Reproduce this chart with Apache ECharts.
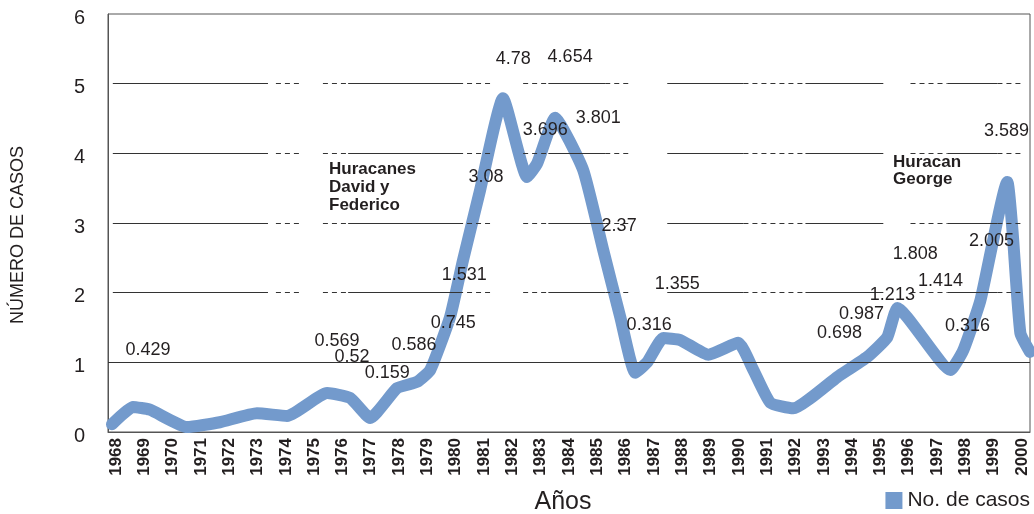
<!DOCTYPE html>
<html>
<head>
<meta charset="utf-8">
<script src="https://cdn.jsdelivr.net/npm/echarts@6/dist/echarts.min.js"></script>
<style>html,body{margin:0;padding:0;background:#fff;}#c{width:1034px;height:514px;}</style>
</head>
<body>
<div id="c"></div>
<script>
// Tick labels
const yearTicks = [1968,1969,1970,1971,1972,1973,1974,1975,1976,1977,1978,1979,1980,1981,1982,1983,1984,1985,1986,1987,1988,1989,1990,1991,1992,1993,1994,1995,1996,1997,1998,1999,2000];
const seriesName = 'No. de casos';
// Line trace (years, values)
const lineYears = [1967.86,1968.60,1969.2,1970.51,1971.67,1972.98,1974.04,1975.46,1976.27,1976.98,1977.93,1978.64,1979.10,1979.80,1980.26,1980.86,1981.67,1982.52,1982.88,1983.51,1984.50,1985.21,1985.81,1986.34,1986.76,1987.33,1987.93,1988.92,1989.98,1990.51,1991.11,1991.92,1993.48,1994.54,1995.24,1995.60,1997.47,1997.93,1998.53,1999.48,1999.66,1999.94,2000.28];
const lineValues = [0.11,0.36,0.32,0.07,0.14,0.27,0.23,0.56,0.49,0.20,0.63,0.72,0.89,1.65,2.47,3.47,4.79,3.66,3.86,4.51,3.76,2.61,1.65,0.85,1.00,1.35,1.32,1.11,1.28,0.89,0.42,0.34,0.79,1.08,1.36,1.78,0.89,1.18,1.89,3.59,2.9,1.42,1.15];
// Value labels (as placed in the picture)
const labelTexts = ['0.429','0.569','0.52','0.159','0.586','0.745','1.531','3.08','4.78','4.654','3.696','3.801','2.37','0.316','1.355','1.808','2.005','3.589','1.414','1.213','0.987','0.698','0.316'];
const labelYears = [1969.13,1975.81,1976.34,1977.58,1978.53,1979.91,1980.30,1981.07,1982.03,1984.04,1983.16,1985.03,1985.77,1986.83,1987.82,1996.23,1998.92,1999.45,1997.12,1995.42,1994.33,1993.55,1998.07];
const labelValues = [1.18,1.31,1.08,0.85,1.25,1.56,2.25,3.66,5.35,5.38,4.33,4.51,2.96,1.54,2.12,2.55,2.74,4.32,2.17,1.97,1.69,1.42,1.52];

const X_MIN = 1967.72, X_MAX = 2000.28;
const FONT = '"Liberation Sans", Arial, sans-serif';
const TXT = '#231f20';

// gridline segment pattern (decoration), in axis units
const gridPattern = [
  [1967.89,1973.37,'s'],[1973.65,1974.47,'d'],[1975.31,1976.20,'d'],[1976.20,1980.26,'s'],
  [1980.40,1981.22,'d'],[1982.38,1983.27,'d'],[1983.27,1985.28,'s'],[1985.28,1986.16,'d'],
  [1987.47,1990.16,'s'],[1990.16,1992.35,'d'],[1992.35,1995.10,'s'],[1996.06,1997.36,'d'],
  [1997.36,1999.13,'s'],[1999.13,2000.05,'d']
];
const gridLevels = [2,3,4,5];
const mlData = [];
gridLevels.forEach(function(y){
  gridPattern.forEach(function(p){
    mlData.push([{coord:[p[0],y], lineStyle:{type: p[2]==='d' ? [5,4] : 'solid'}},{coord:[p[1],y]}]);
  });
});
mlData.push([{coord:[X_MIN,1], lineStyle:{type:'solid'}},{coord:[X_MAX,1]}]);

const lineData = lineYears.map(function(x,i){return [x, lineValues[i]];});
const labelData = labelYears.map(function(x,i){return [x, labelValues[i], labelTexts[i]];});

const chart = echarts.init(document.getElementById('c'));
chart.setOption({
  animation:false,
  textStyle:{fontFamily:FONT},
  grid:{left:108,right:4,top:14,bottom:82,show:true,borderColor:'#555',borderWidth:1,backgroundColor:'transparent'},
  legend:{
    data:[seriesName], right:4, top:490, padding:0, icon:'rect', itemWidth:17, itemHeight:17, itemGap:6,
    textStyle:{fontSize:21,color:TXT,fontFamily:FONT}
  },
  xAxis:{
    type:'value', min:X_MIN, max:X_MAX,
    axisLine:{show:true,lineStyle:{color:'#555',width:1}},
    axisTick:{show:false}, splitLine:{show:false},
    axisLabel:{customValues:yearTicks, rotate:90, fontWeight:'bold', fontSize:17, margin:6, color:TXT, fontFamily:FONT,
      formatter:function(v){return String(Math.round(v));}}
  },
  yAxis:{
    type:'value', min:0, max:6, interval:1,
    axisLine:{show:true,lineStyle:{color:'#555',width:1}},
    axisTick:{show:false}, splitLine:{show:false},
    axisLabel:{margin:23, formatter:'{a|{value}}',
      rich:{a:{fontSize:20, color:TXT, fontFamily:FONT, padding:[8,0,0,0]}}}
  },
  graphic:[
    {type:'text', x:18, y:235, rotation:Math.PI/2, style:{text:'NÚMERO DE CASOS', font:'18px '+FONT, fill:TXT, textAlign:'center', textVerticalAlign:'middle'}},
    {type:'text', x:563, y:502, style:{text:'Años', font:'25px '+FONT, fill:TXT, textAlign:'center', textVerticalAlign:'middle'}},
    {type:'text', x:329, y:160, style:{text:'Huracanes\nDavid y\nFederico', font:'bold 17px '+FONT, lineHeight:18, fill:TXT, textAlign:'left', textVerticalAlign:'top'}},
    {type:'text', x:893, y:154, style:{text:'Huracan\nGeorge', font:'bold 17px '+FONT, lineHeight:17, fill:TXT, textAlign:'left', textVerticalAlign:'top'}}
  ],
  series:[
    {
      name:seriesName, type:'line', data:lineData, smooth:0.15, showSymbol:false, symbol:'none',
      lineStyle:{color:'#739ACC', width:12, cap:'round', join:'round'},
      itemStyle:{color:'#739ACC'}, z:2
    },
    {
      name:'labels', type:'scatter', data:labelData, symbolSize:1, itemStyle:{color:'#fff', opacity:1}, silent:true, z:4,
      label:{show:true, position:'inside', formatter:function(p){return p.value[2];}, fontSize:18, color:TXT, fontFamily:FONT, textBorderWidth:0, opacity:1},
      markLine:{silent:true, symbol:['none','none'], label:{show:false}, lineStyle:{color:'#333',width:1}, data:mlData, z:3}
    }
  ]
});
</script>
</body>
</html>
